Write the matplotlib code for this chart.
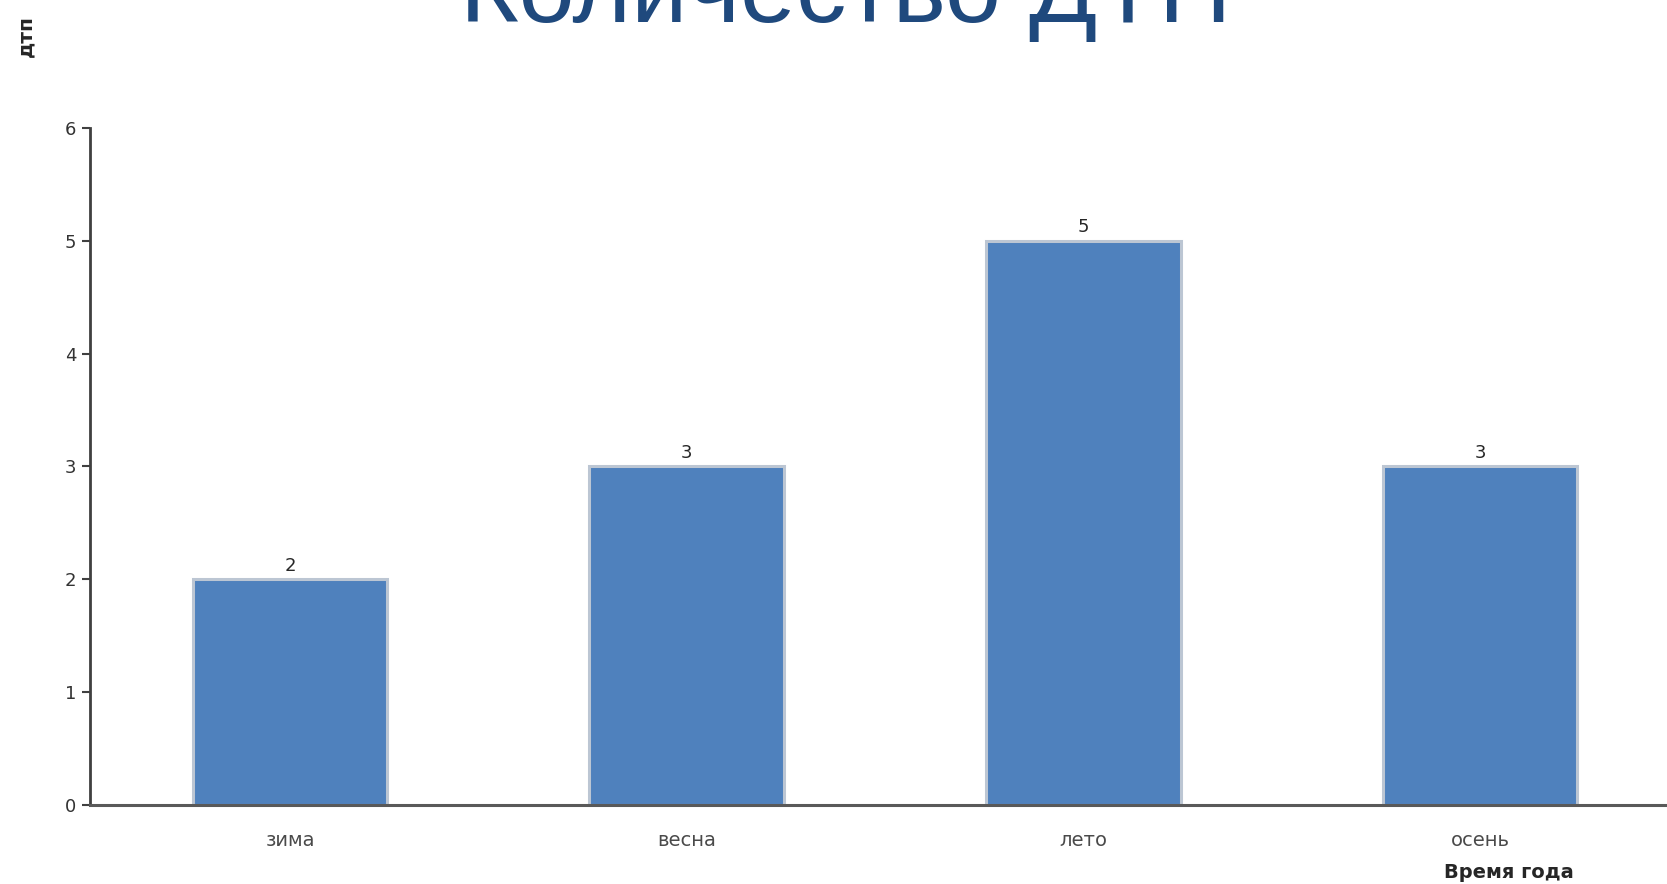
import matplotlib

matplotlib.use("Agg")
import matplotlib.pyplot as plt

# data
seasons = ["зима", "весна", "лето", "осень"]
accidents = [2, 3, 5, 3]
y_ticks = [0, 1, 2, 3, 4, 5, 6]

TITLE = "Количество ДТП"
Y_LABEL = "дтп"
X_LABEL = "Время года"

BAR_COLOR = "#4f81bd"
BAR_EDGE = "#bcc6d3"
TITLE_COLOR = "#1f497d"
AXIS_COLOR = "#404040"

fig = plt.figure(figsize=(16.67, 8.84), dpi=100)
ax = fig.add_axes([0.054, 0.0894, 0.946, 0.7658])

xs = range(len(seasons))
ax.bar(xs, accidents, width=0.49, color=BAR_COLOR,
       edgecolor=BAR_EDGE, linewidth=2.2, zorder=2)
for x, v in zip(xs, accidents):
    ax.text(x, v + 0.04, str(v), ha="center", va="bottom",
            fontsize=13, color="#262626")

ax.set_xlim(-0.504, 3.471)
ax.set_ylim(0, 6)
ax.set_yticks(y_ticks)
ax.set_xticks(list(xs))
ax.set_xticklabels(seasons, fontsize=14, color="#4a4a4a")
ax.tick_params(axis="x", length=0, pad=19)
ax.tick_params(axis="y", length=6, width=1.5, color=AXIS_COLOR,
               labelsize=13, labelcolor="#333333", pad=4)

for side in ("top", "right"):
    ax.spines[side].set_visible(False)
ax.spines["left"].set_color(AXIS_COLOR)
ax.spines["left"].set_linewidth(2.0)
ax.spines["bottom"].set_color("#595959")
ax.spines["bottom"].set_linewidth(2.2)
ax.spines["bottom"].set_zorder(3)

# the title runs off the top edge in the original screenshot
fig.text(0.507, 1 - 22 / 884, TITLE, ha="center", va="baseline",
         fontsize=72.5, color=TITLE_COLOR, family="Liberation Sans")
fig.text(26 / 1667, 1 - 36 / 884, Y_LABEL, rotation=90, ha="center",
         va="center", fontsize=14.5, fontweight="bold", color="#262626")
fig.text(1509 / 1667, 1 - 872 / 884, X_LABEL, ha="center", va="center",
         fontsize=14, fontweight="bold", color="#262626")

fig.savefig("out.png", dpi=100)
